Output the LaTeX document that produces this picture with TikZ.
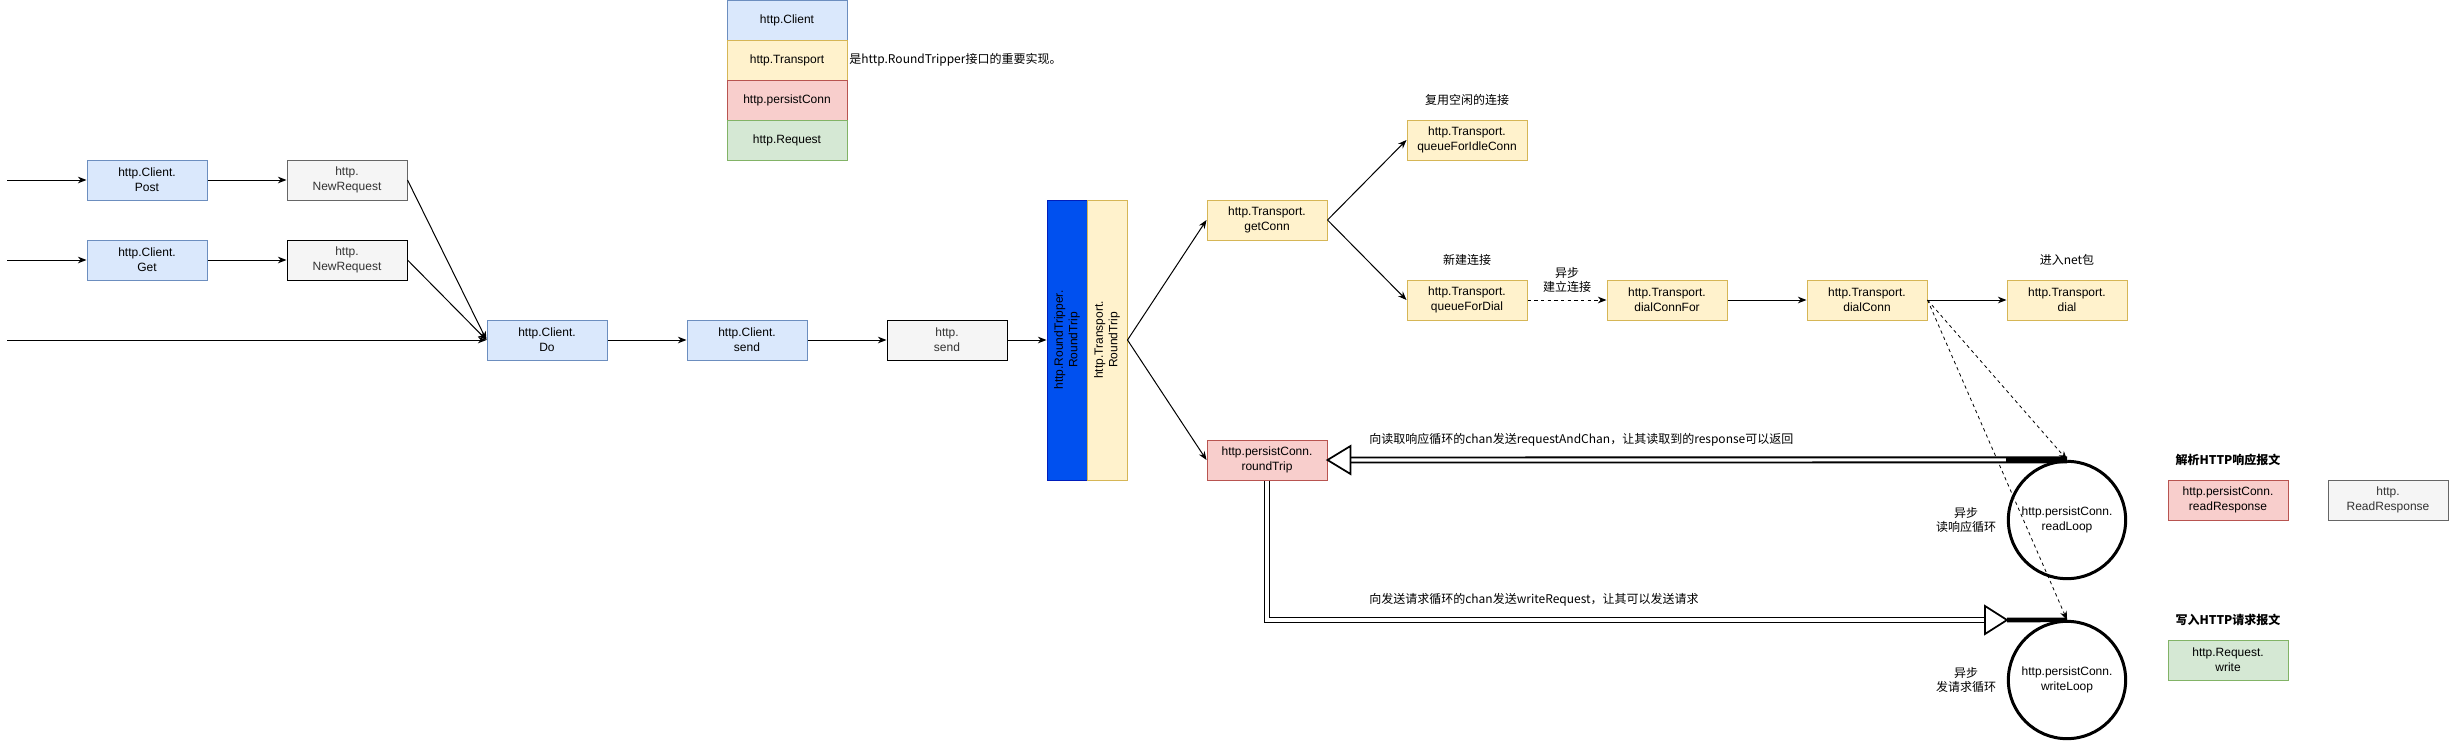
\documentclass[tikz,border=0pt]{standalone}
\usepackage{fontspec}
\setmainfont{Liberation Sans}
\newfontfamily\cjk{Noto Sans CJK SC}
\usetikzlibrary{calc,arrows.meta}

\definecolor{clientfill}{HTML}{DAE8FC}
\definecolor{clientline}{HTML}{6C8EBF}
\definecolor{transfill}{HTML}{FFF2CC}
\definecolor{transline}{HTML}{D6B656}
\definecolor{connfill}{HTML}{F8CECC}
\definecolor{connline}{HTML}{B85450}
\definecolor{reqfill}{HTML}{D5E8D4}
\definecolor{reqline}{HTML}{82B366}
\definecolor{plainfill}{HTML}{F5F5F5}
\definecolor{plainline}{HTML}{666666}
\definecolor{plaintext}{HTML}{333333}
\definecolor{ifacefill}{HTML}{0050EF}
\definecolor{ifaceline}{HTML}{001DBC}

\tikzset{
  box/.style={draw, line width=0.75pt, minimum width=90pt, minimum height=30pt,
    inner sep=1pt, align=center, font=\fontsize{9}{11}\selectfont},
  client/.style={box, fill=clientfill, draw=clientline},
  trans/.style={box, fill=transfill, draw=transline},
  conn/.style={box, fill=connfill, draw=connline},
  req/.style={box, fill=reqfill, draw=reqline},
  plain/.style={box, fill=plainfill, draw=plainline, text=plaintext},
  loopnode/.style={circle, draw, line width=2.25pt, minimum size=88pt, inner sep=0pt,
    align=center, font=\fontsize{9}{11}\selectfont},
  note/.style={align=center, font=\cjk\fontsize{9}{11}\selectfont},
  arr/.style={line width=0.75pt, -{Stealth[length=6.5pt,width=5pt]}},
  dasharr/.style={arr, dash pattern=on 2.5pt off 2.5pt},
  flexshaft/.style={double, line width=1.4pt, double distance=2.4pt},
  flexhead/.style={fill=white, draw, line width=1.3pt, line join=miter}
}

\begin{document}
\begin{tikzpicture}[x=0.75pt,y=-0.75pt]
  \useasboundingbox (0,0) rectangle (2450,743);

  % legend
  \node[client] (legClient) at (787,20) {http.Client};
  \node[trans] (legTrans) at (787,60) {http.Transport};
  \node[conn] (legConn) at (787,100) {http.persistConn};
  \node[req] (legReq) at (787,140) {http.Request};
  \node[note, anchor=west, inner sep=0pt] (legNote) at (849,60) {是http.RoundTripper接口的重要实现。};

  % client side
  \coordinate (inPost) at (7,180);
  \coordinate (inGet) at (7,260);
  \coordinate (inDo) at (7,340);
  \node[client] (post) at (147,180) {http.Client.\\Post};
  \node[plain] (newReqA) at (347,180) {http.\\NewRequest};
  \node[client] (get) at (147,260) {http.Client.\\Get};
  \node[plain, draw=black] (newReqB) at (347,260) {http.\\NewRequest};
  \node[client] (clientDo) at (547,340) {http.Client.\\Do};
  \node[client] (clientSend) at (747,340) {http.Client.\\send};
  \node[plain, draw=black] (httpSend) at (947,340) {http.\\send};

  \node[box, fill=ifacefill, draw=ifaceline, rotate=90, minimum width=210pt]
    (tripper) at (1067,340) {http.RoundTripper.\\RoundTrip};
  \node[trans, rotate=90, minimum width=210pt]
    (transTrip) at (1107,340) {http.Transport.\\RoundTrip};

  % transport
  \node[trans] (getConn) at (1267,220) {http.Transport.\\getConn};
  \node[conn] (roundTrip) at (1267,460) {http.persistConn.\\roundTrip};
  \node[trans] (idleConn) at (1467,140) {http.Transport.\\queueForIdleConn};
  \node[trans] (forDial) at (1467,300) {http.Transport.\\queueForDial};
  \node[trans] (connFor) at (1667,300) {http.Transport.\\dialConnFor};
  \node[trans] (dialConn) at (1867,300) {http.Transport.\\dialConn};
  \node[trans] (dial) at (2067,300) {http.Transport.\\dial};

  \node[note] (idleNote) at (1467,100) {复用空闲的连接};
  \node[note] (dialNote) at (1467,260) {新建连接};
  \node[note] (asyncNote) at (1567,280) {异步\\建立连接};
  \node[note] (netNote) at (2067,260) {进入net包};

  % loops
  \node[loopnode] (readLoop) at (2067,520) {http.persistConn.\\readLoop};
  \node[loopnode] (writeLoop) at (2067,680) {http.persistConn.\\writeLoop};
  \node[note] (readNote) at (1966,520) {异步\\读响应循环};
  \node[note] (writeNote) at (1966,680) {异步\\发请求循环};
  \node[note, anchor=west, inner sep=0pt] (readMsg) at (1369,440)
    {向读取响应循环的chan发送requestAndChan，让其读取到的response可以返回};
  \node[note, anchor=west, inner sep=0pt] (writeMsg) at (1369,600)
    {向发送请求循环的chan发送writeRequest，让其可以发送请求};

  \node[note, font=\cjk\bfseries\fontsize{9}{11}\selectfont] (parseNote) at (2228,460) {解析HTTP响应报文};
  \node[conn] (readResp) at (2228,500) {http.persistConn.\\readResponse};
  \node[plain] (httpReadResp) at (2388,500) {http.\\ReadResponse};
  \node[note, font=\cjk\bfseries\fontsize{9}{11}\selectfont] (writeTitle) at (2228,620) {写入HTTP请求报文};
  \node[req] (reqWrite) at (2228,660) {http.Request.\\write};

  % calls
  \draw[arr] (inPost) -- (post);
  \draw[arr] (inGet) -- (get);
  \draw[arr] (inDo) -- (clientDo);
  \draw[arr] (post) -- (newReqA);
  \draw[arr] (get) -- (newReqB);
  \draw[arr] (newReqA.east) -- (clientDo.west);
  \draw[arr] (newReqB.east) -- (clientDo.west);
  \draw[arr] (clientDo) -- (clientSend);
  \draw[arr] (clientSend) -- (httpSend);
  \draw[arr] (httpSend) -- (tripper.north);
  \draw[arr] (transTrip.south) -- (getConn.west);
  \draw[arr] (transTrip.south) -- (roundTrip.west);
  \draw[arr] (getConn.east) -- (idleConn.west);
  \draw[arr] (getConn.east) -- (forDial.west);
  \draw[dasharr] (forDial) -- (connFor);
  \draw[arr] (connFor) -- (dialConn);
  \draw[arr] (dialConn) -- (dial);
  \draw[dasharr, line width=0.6pt] (dialConn.east) -- (readLoop.north);
  \draw[dasharr, line width=0.6pt] (dialConn.east) -- (writeLoop.north);

  % channel arrows
  \coordinate (readHead) at ($(roundTrip.east)+(23,0)$);
  \draw[flexshaft] (readLoop.north) -- (readHead);
  \draw[flexhead] (roundTrip.east) -- ++(23,-14) -- ++(0,28) -- cycle;
  \draw[line width=3.5pt] (readLoop.north) -- ++(-61,0);

  \coordinate (writeTip) at (2007,620);
  \coordinate (writeHead) at ($(writeTip)+(-22,0)$);
  \draw[flexshaft] (roundTrip.south) |- (writeHead);
  \draw[flexhead] (writeTip) -- ++(-22,-14) -- ++(0,28) -- cycle;
  \draw[line width=3.5pt] (writeTip) -- (writeLoop.north);
\end{tikzpicture}
\end{document}
